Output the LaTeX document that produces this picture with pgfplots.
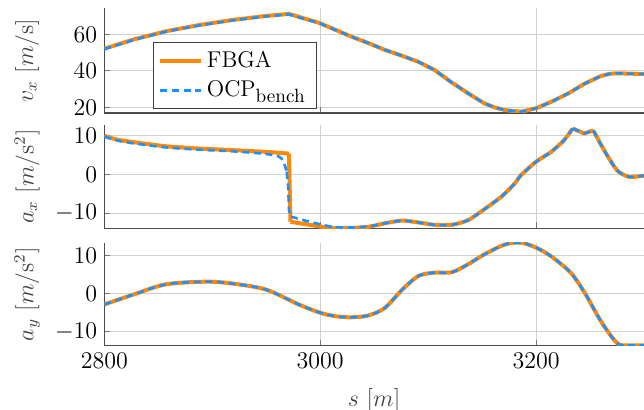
\documentclass[border=0pt]{standalone}
\usepackage{pgfplots}
\pgfplotsset{compat=1.18}
\definecolor{cOr}{RGB}{255,136,10}
\definecolor{cBl}{RGB}{30,144,255}
\pgfplotsset{
  panel/.style={
    width=269.85pt, scale only axis,
    xmin=2800, xmax=3300,
    axis lines=left, axis line style={-, draw=black!70, line width=0.6pt},
    xtick={2800,3000,3200},
    /pgf/number format/1000 sep={},
    grid=major, major grid style={black!18, line width=0.5pt},
    tick align=inside, tick style={black!55, line width=0.5pt}, major tick length=3pt,
    font=\fontsize{11.7}{14}\selectfont,
    every axis y label/.style={at={(axis description cs:-0.143,0.5)}, rotate=90, anchor=center, color=black!75},
    every axis x label/.style={at={(axis description cs:0.5,0)}, yshift=-27.2pt, anchor=center, color=black!75},
    scaled ticks=false, clip=true,
    legend image code/.code={\draw[##1] (0pt,0pt) -- (20.3pt,0pt);},
  },
  fbga/.style={color=cOr, line width=2pt, line join=round},
  ocp/.style={color=cBl, line width=1.3pt, dash pattern=on 3.5pt off 2.3pt, line join=round},
}
\begin{document}
\begin{tikzpicture}
% ---------- v_x ----------
\begin{axis}[panel, at={(0pt,148.5pt)}, anchor=south west, height=52.35pt,
  ymin=16.9, ymax=74.4, ytick={20,40,60}, xticklabels={},
  ylabel={$v_x\ [m/\mathrm{s}]$},
  legend style={at={(axis description cs:0.09,0.681)}, anchor=north west, draw=black!75, line width=0.5pt, font=\fontsize{11.4}{14.5}\selectfont, cells={anchor=west}, inner xsep=2.5pt, inner ysep=2.5pt, row sep=1.2pt},
]
\addplot[fbga] coordinates {
(2800,52.2) (2828,57.4) (2858,61.9) (2888,65.2) (2919,68.0) (2950,70.2) (2971,71.3)
(2999,66.4) (3029,58.8) (3045,55.2) (3060,51.5) (3075,48.5) (3091,45.0) (3106,40.5) (3121,34.0)
(3137,27.7) (3152,22.2) (3162,19.9) (3171,18.5) (3186,17.6) (3200,19.5) (3214,23.0) (3230,27.7)
(3245,33.0) (3260,37.2) (3268,38.4) (3275,38.7) (3300,38.3)};
\addlegendentry{FBGA}
\addplot[ocp] coordinates {
(2800,52.0) (2828,57.2) (2858,61.7) (2888,65.0) (2919,67.8) (2950,70.0) (2971,71.0)
(2999,66.3) (3029,58.8) (3045,55.2) (3060,51.5) (3075,48.5) (3091,45.0) (3106,40.5) (3121,34.0)
(3137,27.7) (3152,22.2) (3162,19.9) (3171,18.5) (3186,17.6) (3200,19.5) (3214,23.0) (3230,27.7)
(3245,33.0) (3260,37.2) (3268,38.4) (3275,38.7) (3300,38.3)};
\addlegendentry{OCP$_{\hbox{\fontsize{9.6}{10}\selectfont bench}}$\hspace*{1pt}}
\end{axis}
% ---------- a_x ----------
\begin{axis}[panel, at={(0pt,90.85pt)}, anchor=south west, height=51.65pt,
  ymin=-13.9, ymax=12.8, ytick={-10,0,10}, xticklabels={},
  ylabel={$a_x\ [m/\mathrm{s}^2]$},
]
% FBGA pieces
\addplot[fbga, smooth, tension=0.4] coordinates {
(2800,10.0) (2812,9.0) (2826,8.4) (2857,7.3) (2888,6.7) (2919,6.3) (2950,5.85) (2971,5.4)};
\addplot[fbga] coordinates {(2971,5.4) (2972.5,-12.2)};
\addplot[fbga, smooth, tension=0.4] coordinates {
(2972.5,-12.2) (2990,-13.0) (3011,-13.85) (3029,-13.8) (3045,-13.5) (3060,-12.6) (3076,-11.9)
(3091,-12.4) (3106,-13.0) (3122,-13.0) (3137,-11.8) (3152,-9.0) (3168,-5.7) (3180,-2.4) (3186,-0.2)
(3200,3.3) (3214,5.85) (3226,8.9) (3234,11.9)};
\addplot[fbga] coordinates {(3234,11.9) (3244.6,10.6) (3253,11.4)};
\addplot[fbga, smooth, tension=0.4] coordinates {
(3253,11.4) (3263,6.3) (3275,1.1) (3286,-0.6) (3300,-0.3)};
% OCP pieces
\addplot[ocp, smooth, tension=0.4] coordinates {
(2800,9.8) (2812,8.8) (2826,8.1) (2857,7.0) (2888,6.4) (2919,6.0) (2950,5.3) (2962,4.6)
(2966,3.4) (2969,0.7)};
\addplot[ocp] coordinates {(2969,0.7) (2970.5,-3.6) (2971,-9.1) (2973,-10.9)};
\addplot[ocp, smooth, tension=0.4] coordinates {
(2973,-10.9) (2990,-12.2) (3011,-13.5)
(3029,-13.7) (3045,-13.4) (3060,-12.6) (3076,-11.9)
(3091,-12.4) (3106,-13.0) (3122,-13.0) (3137,-11.8) (3152,-9.0) (3168,-5.7) (3180,-2.4) (3186,-0.2)
(3200,3.3) (3214,5.85) (3226,8.9) (3234,11.9)};
\addplot[ocp] coordinates {(3234,11.9) (3244.6,10.6) (3253,11.4)};
\addplot[ocp, smooth, tension=0.4] coordinates {
(3253,11.4) (3263,6.3) (3275,1.1) (3286,-0.6) (3300,-0.3)};
\end{axis}
% ---------- a_y ----------
\begin{axis}[panel, at={(0pt,32.15pt)}, anchor=south west, height=51.5pt,
  ymin=-13.7, ymax=13.5, ytick={-10,0,10},
  ylabel={$a_y\ [m/\mathrm{s}^2]$}, xlabel={$s\ [m]$},
]
\addplot[fbga, smooth, tension=0.5] coordinates {
(2800,-2.8) (2827,-0.2) (2857,2.5) (2894,3.2) (2919,2.7) (2950,1.1) (2980,-2.8) (3000,-5.0)
(3014,-5.9) (3029,-6.2) (3045,-5.7) (3060,-3.7) (3076,1.1) (3091,4.7) (3106,5.6) (3122,5.7)
(3137,7.8) (3152,10.4) (3171,13.0) (3186,13.5) (3200,12.2) (3214,9.9) (3232,5.6) (3245,0.3)
(3260,-7.2) (3275,-13.0) (3285,-13.6) (3300,-13.6)};
\addplot[ocp, smooth, tension=0.5] coordinates {
(2800,-2.8) (2827,-0.2) (2857,2.5) (2894,3.2) (2919,2.7) (2950,1.1) (2980,-2.8) (3000,-5.0)
(3014,-5.9) (3029,-6.2) (3045,-5.7) (3060,-3.7) (3076,1.1) (3091,4.7) (3106,5.6) (3122,5.7)
(3137,7.8) (3152,10.4) (3171,13.0) (3186,13.5) (3200,12.2) (3214,9.9) (3232,5.6) (3245,0.3)
(3260,-7.2) (3275,-13.0) (3285,-13.6) (3300,-13.6)};
\end{axis}
\pgfresetboundingbox
\useasboundingbox (-52.15pt,0pt) rectangle (269.85pt,205pt);
\end{tikzpicture}
\end{document}
